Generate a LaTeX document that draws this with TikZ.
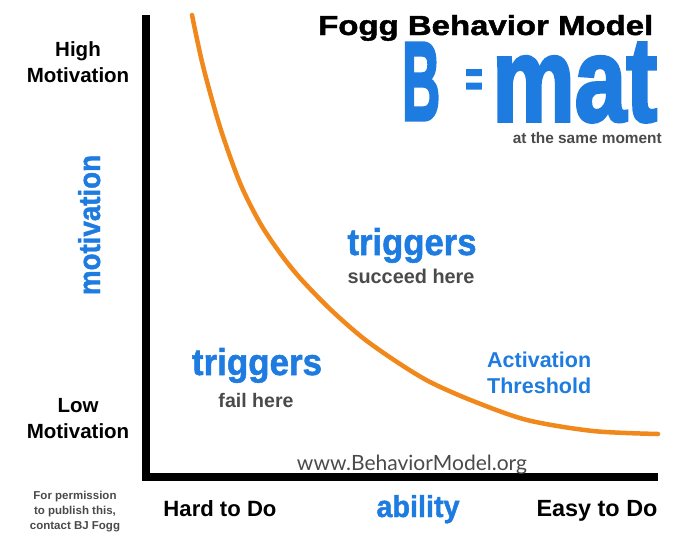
\documentclass[tikz,border=0pt]{standalone}
\usepackage{fontspec}
\usepackage{graphicx}
\setmainfont{Liberation Sans}
\newfontfamily\urlfont{Lato}
\newfontfamily\heavyfont[BoldFeatures={FakeBold=3}]{Liberation Sans}
\newfontfamily\blackfont[BoldFeatures={FakeBold=1.5}]{Liberation Sans}
\definecolor{foggblue}{HTML}{1E7BE0}
\definecolor{foggorange}{HTML}{F0881C}
\definecolor{fogggrey}{HTML}{4A4A4A}
\newcommand{\fitw}[2]{\resizebox{#1pt}{!}{#2}}
\newcommand{\fitwh}[3]{\resizebox{#1pt}{#2pt}{#3}}

\begin{document}
\begin{tikzpicture}[x=1pt,y=1pt,
  axislabel/.style={font=\bfseries\fontsize{20.5}{26}\selectfont, align=center},
  bluebig/.style={text=foggblue, font=\blackfont\bfseries},
  greynote/.style={text=fogggrey, font=\bfseries}]
\tikzstyle{every node}+=[inner sep=0pt]
\useasboundingbox (0,0) rectangle (680,-533);
% axes
\coordinate (ytop) at (146,-15);
\coordinate (origin) at (146,-477);
\coordinate (xend) at (658,-477);
\draw [line width=8pt, line join=miter] (ytop) -- (origin) -- (xend);
% activation threshold
\draw [foggorange, line width=4.5pt, line cap=round] plot [smooth, tension=0.5] coordinates {(192,-15) (203,-66) (220,-127) (240,-183) (260,-223) (280,-253) (300,-278) (330,-309) (363,-338) (397,-362) (430,-382) (473,-401) (527,-420) (593,-431) (658,-434)};
% title
\node [anchor=base west, font=\blackfont\bfseries] (title) at (318,-35) {\fitwh{335}{20}{Fogg Behavior Model}};
\node [bluebig, font=\heavyfont\bfseries, anchor=base west] (bee) at (402,-120) {\fitwh{38}{77}{B}};
\node [bluebig, font=\heavyfont\bfseries, anchor=base] (eq) at (474,-96) {\scalebox{0.6}[1]{\fontsize{50}{50}\selectfont =}};
\node [bluebig, font=\heavyfont\bfseries, anchor=base west] (mat) at (492,-121) {\fitwh{165}{78}{mat}};
\node [greynote, anchor=base east] (moment) at (662,-143) {\fitw{149}{at the same moment}};
% motivation axis
\node [axislabel, anchor=base] (high) at (78,-82) {High\\Motivation};
\node [axislabel, anchor=base] (low) at (78,-438) {Low\\Motivation};
\node [bluebig, rotate=90, anchor=base] (motivation) at (100,-225) {\fitwh{140}{22}{motivation}};
% ability axis
\node [axislabel, anchor=base] (hard) at (220,-516) {\fitw{113}{Hard to Do}};
\node [bluebig, anchor=base] (ability) at (418,-517) {\fitwh{83}{22}{ability}};
\node [axislabel, anchor=base] (easy) at (597,-516) {\fitw{121}{Easy to Do}};
\node [text=fogggrey, anchor=base] (url) at (412,-470) {\fitw{230}{\urlfont www.BehaviorModel.org}};
\node [greynote, anchor=base, align=center, font=\bfseries\fontsize{11.5}{15}\selectfont] (permission) at (75,-529) {For permission\\to publish this,\\contact BJ Fogg};
% regions
\node [bluebig, anchor=base] (trigfail) at (257,-375) {\fitwh{130}{27}{triggers}};
\node [greynote, anchor=base] (fail) at (256,-407) {\fitw{75}{fail here}};
\node [bluebig, anchor=base] (trigwin) at (412,-255) {\fitwh{129}{27}{triggers}};
\node [greynote, anchor=base] (succeed) at (411,-283) {\fitw{127}{succeed here}};
\node [text=foggblue, anchor=base west, align=left, font=\bfseries\fontsize{21.5}{26}\selectfont] (threshold) at (487,-393) {Activation\\Threshold};
\end{tikzpicture}
\end{document}
